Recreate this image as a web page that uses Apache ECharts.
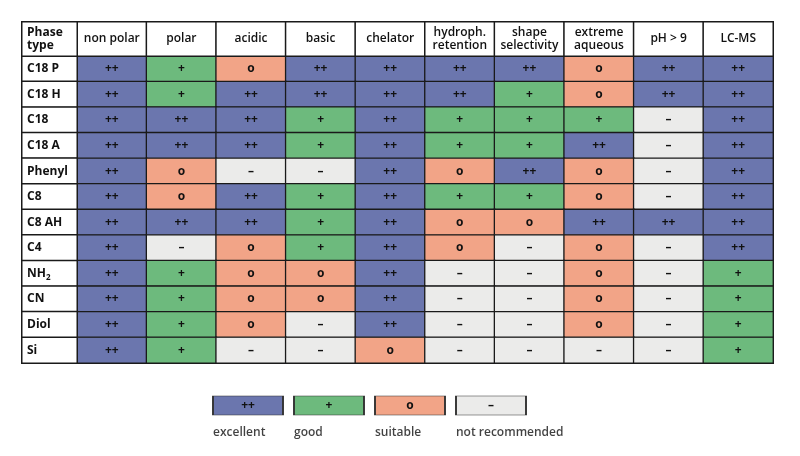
<!DOCTYPE html>
<html>
<head>
<meta charset="utf-8">
<script src="https://cdn.jsdelivr.net/npm/echarts@6/dist/echarts.min.js"></script>
<style>
  html, body { margin: 0; padding: 0; background: #fff; }
  #main { width: 800px; height: 456px; }
</style>
</head>
<body>
<div id="main"></div>
<script>
// ---------------- data ----------------
var columns = ["non polar", "polar", "acidic", "basic", "chelator",
  "hydroph.\nretention", "shape\nselectivity", "extreme\naqueous", "pH > 9", "LC-MS"];
var phases = ["C18 P", "C18 H", "C18", "C18 A", "Phenyl", "C8", "C8 AH", "C4", "NH2", "CN", "Diol", "Si"];

// one row per phase, one entry per column
var ratings = [
  ["++", "+", "o", "++", "++", "++", "++", "o", "++", "++"],
  ["++", "+", "++", "++", "++", "++", "+", "o", "++", "++"],
  ["++", "++", "++", "+", "++", "+", "+", "+", "–", "++"],
  ["++", "++", "++", "+", "++", "+", "+", "++", "–", "++"],
  ["++", "o", "–", "–", "++", "o", "++", "o", "–", "++"],
  ["++", "o", "++", "+", "++", "+", "+", "o", "–", "++"],
  ["++", "++", "++", "+", "++", "o", "o", "++", "++", "++"],
  ["++", "–", "o", "+", "++", "o", "–", "o", "–", "++"],
  ["++", "+", "o", "o", "++", "–", "–", "o", "–", "+"],
  ["++", "+", "o", "o", "++", "–", "–", "o", "–", "+"],
  ["++", "+", "o", "–", "++", "–", "–", "o", "–", "+"],
  ["++", "+", "–", "–", "o", "–", "–", "–", "–", "+"]
];

var levels = ["++", "+", "o", "–"];
var levelNames = ["excellent", "good", "suitable", "not recommended"];
var levelColors = { "++": "#6b76ae", "+": "#6dba7d", "o": "#f2a487", "–": "#ebebea" };

var FONT = "Open Sans";
var LINE = "#1a1a1a";

// ---------------- build series data ----------------
var cellData = [];
ratings.forEach(function (row, r) {
  row.forEach(function (val, c) {
    cellData.push({ value: [c, r, levels.indexOf(val)], mark: val, itemStyle: { color: levelColors[val] } });
  });
});

var headerData = columns.map(function (name, c) { return { value: [c, 0, 0], name: name }; });
var phaseData = phases.map(function (name, r) { return { value: [0, r, 0], name: name }; });
var legendData = levels.map(function (lv, i) {
  return { value: [i, 0], mark: lv, name: levelNames[i], itemStyle: { color: levelColors[lv] } };
});

var myChart = echarts.init(document.getElementById("main"), null, { renderer: "canvas" });

function catAxis(grid, data, inverse) {
  return { type: "category", gridIndex: grid, data: data, show: false, inverse: !!inverse };
}

var option = {
  animation: false,
  backgroundColor: "#fff",
  grid: [
    // data cells
    { left: 77, top: 56, width: 696, height: 307, show: true, borderColor: LINE, borderWidth: 2, backgroundColor: "transparent" },
    // header row
    { left: 77, top: 22, width: 696, height: 34, show: true, borderColor: LINE, borderWidth: 2, backgroundColor: "transparent" },
    // phase column
    { left: 22, top: 56, width: 55, height: 307, show: true, borderColor: LINE, borderWidth: 2, backgroundColor: "transparent" },
    // corner cell
    { left: 22, top: 22, width: 55, height: 34, show: true, borderColor: LINE, borderWidth: 2, backgroundColor: "transparent" },
    // legend
    { left: 207.5, top: 396, width: 324, height: 19 }
  ],
  xAxis: [
    catAxis(0, columns),
    catAxis(1, columns),
    catAxis(2, ["phase"]),
    catAxis(3, ["corner"]),
    catAxis(4, levels)
  ],
  yAxis: [
    catAxis(0, phases, true),
    catAxis(1, ["head"]),
    catAxis(2, phases, true),
    catAxis(3, ["corner"]),
    catAxis(4, ["legend"])
  ],
  series: [
    {
      type: "heatmap",
      xAxisIndex: 0, yAxisIndex: 0,
      data: cellData,
      itemStyle: { borderColor: LINE, borderWidth: 1.3 },
      label: {
        show: true,
        formatter: function (p) { return p.data.mark; },
        color: "#111", fontFamily: FONT, fontSize: 12, fontWeight: "bold"
      },
      emphasis: { disabled: true }
    },
    {
      type: "heatmap",
      xAxisIndex: 1, yAxisIndex: 1,
      data: headerData,
      itemStyle: { color: "#fff", borderColor: LINE, borderWidth: 1.5 },
      label: {
        show: true,
        formatter: function (p) { return p.data.name; },
        color: "#111", fontFamily: FONT, fontSize: 12, fontWeight: 600, lineHeight: 13
      },
      emphasis: { disabled: true }
    },
    {
      type: "heatmap",
      xAxisIndex: 2, yAxisIndex: 2,
      data: phaseData,
      itemStyle: { color: "#fff", borderColor: LINE, borderWidth: 1.5 },
      label: {
        show: true,
        position: [6, "50%"],
        align: "left", verticalAlign: "middle",
        formatter: function (p) {
          return p.data.name === "NH2" ? "NH{sub|2}" : p.data.name;
        },
        color: "#111", fontFamily: FONT, fontSize: 12, fontWeight: "bold",
        rich: {
          sub: { fontFamily: FONT, fontSize: 8, fontWeight: "bold", color: "#111", padding: [8, 0, 0, 0] }
        }
      },
      emphasis: { disabled: true }
    },
    {
      type: "heatmap",
      xAxisIndex: 3, yAxisIndex: 3,
      data: [{ value: [0, 0, 0], name: "Phase\ntype" }],
      itemStyle: { color: "#fff", borderColor: LINE, borderWidth: 1.5 },
      label: {
        show: true,
        position: [6, "50%"],
        align: "left", verticalAlign: "middle",
        formatter: function (p) { return p.data.name; },
        color: "#111", fontFamily: FONT, fontSize: 12, fontWeight: "bold", lineHeight: 13
      },
      emphasis: { disabled: true }
    },
    {
      // legend boxes
      type: "scatter",
      xAxisIndex: 4, yAxisIndex: 4,
      symbol: "rect",
      symbolSize: [70, 19],
      data: legendData,
      itemStyle: { borderColor: "#333", borderWidth: 1, opacity: 1 },
      label: {
        show: true, position: "inside",
        formatter: function (p) { return p.data.mark; },
        color: "#111", fontFamily: FONT, fontSize: 12, fontWeight: "bold"
      },
      emphasis: { disabled: true },
      z: 3
    },
    {
      // legend captions
      type: "scatter",
      xAxisIndex: 4, yAxisIndex: 4,
      symbol: "rect",
      symbolSize: [70, 19],
      data: legendData.map(function (d) { return { value: d.value, name: d.name }; }),
      itemStyle: { color: "rgba(0,0,0,0)" },
      label: {
        show: true,
        position: [0, 37],
        align: "left", verticalAlign: "middle",
        formatter: function (p) { return p.data.name; },
        color: "#111", fontFamily: FONT, fontSize: 12, fontWeight: 600
      },
      emphasis: { disabled: true },
      z: 2
    }
  ]
};

myChart.setOption(option);
window.addEventListener("resize", myChart.resize);
</script>
</body>
</html>
